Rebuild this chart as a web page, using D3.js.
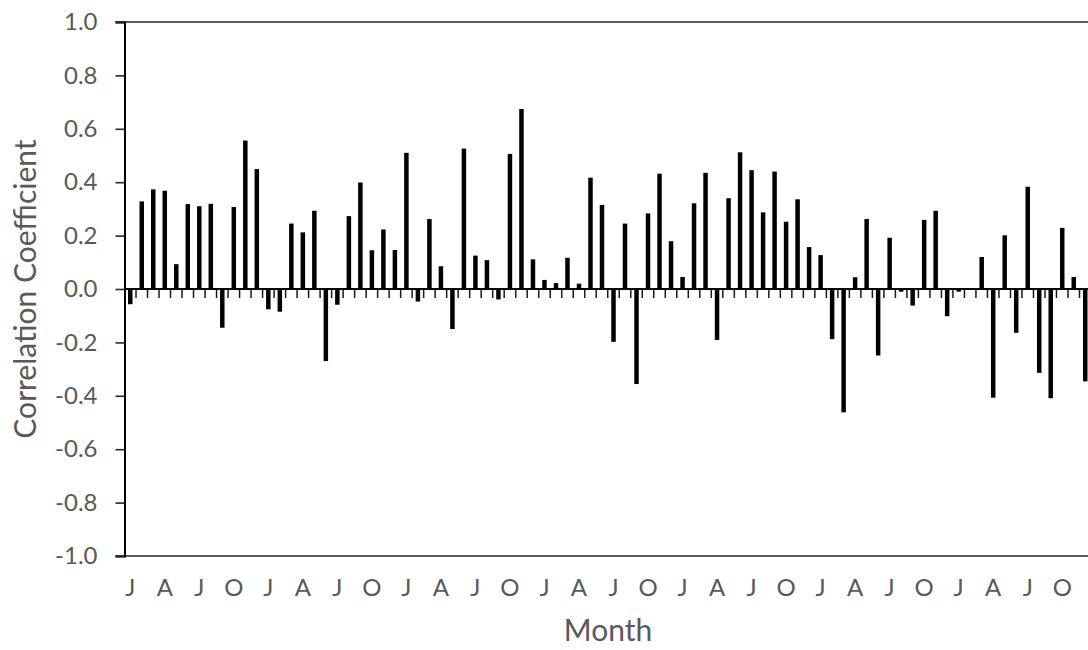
<!DOCTYPE html>
<html>
<head>
<meta charset="utf-8">
<script src="https://cdn.jsdelivr.net/npm/d3@7"></script>
<style>
    body { margin: 0; background: #fff; }
    text { font-family: Lato, "Open Sans", sans-serif; fill: #595959; }
</style>
</head>
<body>
<div id="content"></div>
<script>
// monthly correlation coefficients, 84 months starting in January
var values = [
    -0.057, 0.328, 0.373, 0.368, 0.093, 0.318, 0.310, 0.319, -0.145, 0.307, 0.556, 0.449,
    -0.076, -0.085, 0.245, 0.212, 0.293, -0.270, -0.059, 0.273, 0.399, 0.145, 0.223, 0.146,
    0.510, -0.047, 0.262, 0.085, -0.150, 0.526, 0.125, 0.108, -0.039, 0.506, 0.674, 0.111,
    0.034, 0.022, 0.117, 0.020, 0.417, 0.315, -0.198, 0.245, -0.356, 0.283, 0.432, 0.179,
    0.045, 0.321, 0.435, -0.191, 0.340, 0.512, 0.445, 0.287, 0.440, 0.252, 0.336, 0.157,
    0.127, -0.188, -0.462, 0.044, 0.262, -0.249, 0.192, -0.010, -0.062, 0.259, 0.293, -0.102,
    -0.010, 0.000, 0.120, -0.407, 0.201, -0.164, 0.383, -0.314, -0.409, 0.229, 0.045, -0.346
];
var monthLetters = ["J", "F", "M", "A", "M", "J", "J", "A", "S", "O", "N", "D"];
var yTicks = [-1.0, -0.8, -0.6, -0.4, -0.2, 0.0, 0.2, 0.4, 0.6, 0.8, 1.0];

var width = 1088;
var height = 650;
var plot = { left: 124.5, right: 1091, top: 22, bottom: 556 };

var months = values.map(function (v, i) { return i; });

var svg = d3.select("#content").append("svg")
    .attr("width", width)
    .attr("height", height);

var x = d3.scaleBand()
    .domain(months)
    .range([plot.left, plot.right])
    .padding(0);

var y = d3.scaleLinear()
    .domain([-1, 1])
    .range([plot.bottom, plot.top]);

// top and bottom frame lines
svg.append("g").selectAll("line")
    .data([1, -1])
    .enter()
    .append("line")
    .attr("x1", plot.left - 9)
    .attr("x2", width)
    .attr("y1", function (d) { return y(d); })
    .attr("y2", function (d) { return y(d); })
    .attr("stroke", "#262626")
    .attr("stroke-width", 1.6);

// bars
var barW = x.bandwidth() * 0.39;
svg.append("g").selectAll("rect")
    .data(values)
    .enter()
    .append("rect")
    .attr("x", function (d, i) { return x(i) + x.bandwidth() / 2 - barW / 2; })
    .attr("width", barW)
    .attr("y", function (d) { return y(Math.max(0, d)); })
    .attr("height", function (d) { return Math.abs(y(d) - y(0)); })
    .attr("fill", "#000");

// category axis crossing at zero, ticks between months
var boundaries = months.slice(1).map(function (i) { return x(i); });
svg.append("g").selectAll("line")
    .data(boundaries)
    .enter()
    .append("line")
    .attr("x1", function (d) { return d; })
    .attr("x2", function (d) { return d; })
    .attr("y1", y(0))
    .attr("y2", y(0) + 9)
    .attr("stroke", "#1a1a1a")
    .attr("stroke-width", 1.5);

svg.append("line")
    .attr("x1", plot.left)
    .attr("x2", width)
    .attr("y1", y(0))
    .attr("y2", y(0))
    .attr("stroke", "#000")
    .attr("stroke-width", 2);

// y axis
var yAxis = d3.axisLeft(y)
    .tickValues(yTicks)
    .tickSize(9)
    .tickPadding(18)
    .tickFormat(function (d) { return (Math.round(d * 10) / 10).toFixed(1); });

var gy = svg.append("g")
    .attr("transform", "translate(" + plot.left + ",0)")
    .call(yAxis);
gy.select(".domain").attr("stroke", "#000").attr("stroke-width", 2);
gy.selectAll(".tick line").attr("stroke", "#262626").attr("stroke-width", 1.6);
gy.selectAll(".tick text")
    .style("font-size", "24px")
    .attr("fill", "#595959");

// month letters every quarter
svg.append("g").selectAll("text")
    .data(months.filter(function (i) { return i % 3 == 0; }))
    .enter()
    .append("text")
    .attr("x", function (i) { return x(i) + x.bandwidth() / 2; })
    .attr("y", 596)
    .style("text-anchor", "middle")
    .style("font-size", "24px")
    .text(function (i) { return monthLetters[i % 12]; });

svg.append("text")
    .attr("x", 608)
    .attr("y", 641)
    .style("text-anchor", "middle")
    .style("font-size", "30px")
    .text("Month");

svg.append("text")
    .attr("transform", "rotate(-90)")
    .attr("x", -289)
    .attr("y", 36)
    .style("text-anchor", "middle")
    .style("font-size", "30px")
    .text("Correlation Coefficient");
</script>
</body>
</html>
